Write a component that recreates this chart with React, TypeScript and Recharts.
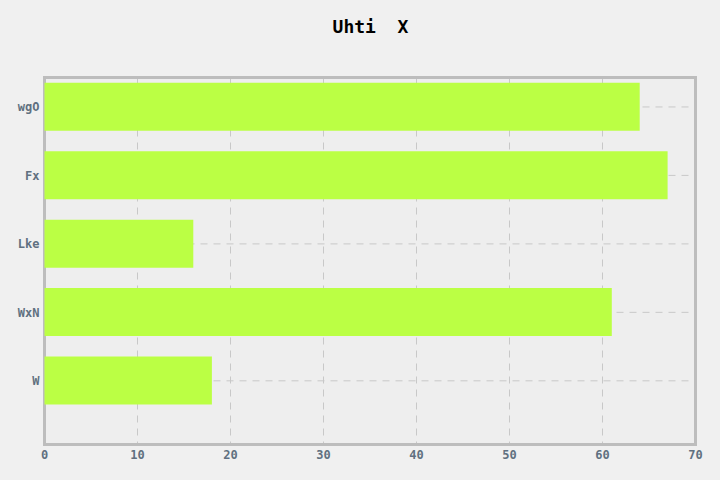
import {
  Bar,
  BarChart,
  CartesianGrid,
  ReferenceArea,
  XAxis,
  YAxis,
} from "recharts";

const categories = ["wgO", "Fx", "Lke", "WxN", "W"];
const values = [64, 67, 16, 61, 18];
const xTicks = [0, 10, 20, 30, 40, 50, 60, 70];

const data = categories.map((name, i) => ({ idx: i, name, value: values[i] }));

const FONT = "'DejaVu Sans Mono', monospace";
const TICK = { fill: "#607080", fontSize: 12, fontWeight: 700, fontFamily: FONT };

export default function App() {
  return (
    <div
      style={{
        position: "absolute",
        left: 0,
        top: 0,
        width: 720,
        height: 480,
        background: "#f0f0f0",
      }}
    >
      <div
        style={{
          position: "absolute",
          left: 0,
          width: 741,
          top: 16,
          textAlign: "center",
          fontFamily: FONT,
          fontWeight: 700,
          fontSize: 18,
          whiteSpace: "pre",
          color: "#000",
        }}
      >
        Uhti  X
      </div>
      <BarChart
        width={720}
        height={480}
        data={data}
        layout="vertical"
        margin={{ top: 77.5, right: 24.5, bottom: 0, left: 0 }}
      >
        <CartesianGrid
          fill="#eeeeee"
          stroke="#c8c8c8"
          strokeDasharray="7 6"
        />
        <XAxis
          type="number"
          dataKey="value"
          domain={[0, 70]}
          ticks={xTicks}
          height={35.5}
          axisLine={false}
          tickLine={false}
          tickSize={0}
          tickMargin={6}
          tick={TICK}
        />
        <YAxis
          type="number"
          dataKey="idx"
          domain={[-0.43, 4.93]}
          ticks={[0, 1, 2, 3, 4]}
          tickFormatter={(v) => categories[v] ?? ""}
          width={44.5}
          axisLine={false}
          tickLine={false}
          tickSize={0}
          tickMargin={5}
          tick={TICK}
        />
        <Bar
          dataKey="value"
          fill="#bbff44"
          barSize={48}
          isAnimationActive={false}
        />
        <ReferenceArea
          x1={0}
          x2={70}
          y1={-0.43}
          y2={4.93}
          fill="none"
          stroke="#bdbdbd"
          strokeWidth={3}
          ifOverflow="visible"
        />
      </BarChart>
    </div>
  );
}
